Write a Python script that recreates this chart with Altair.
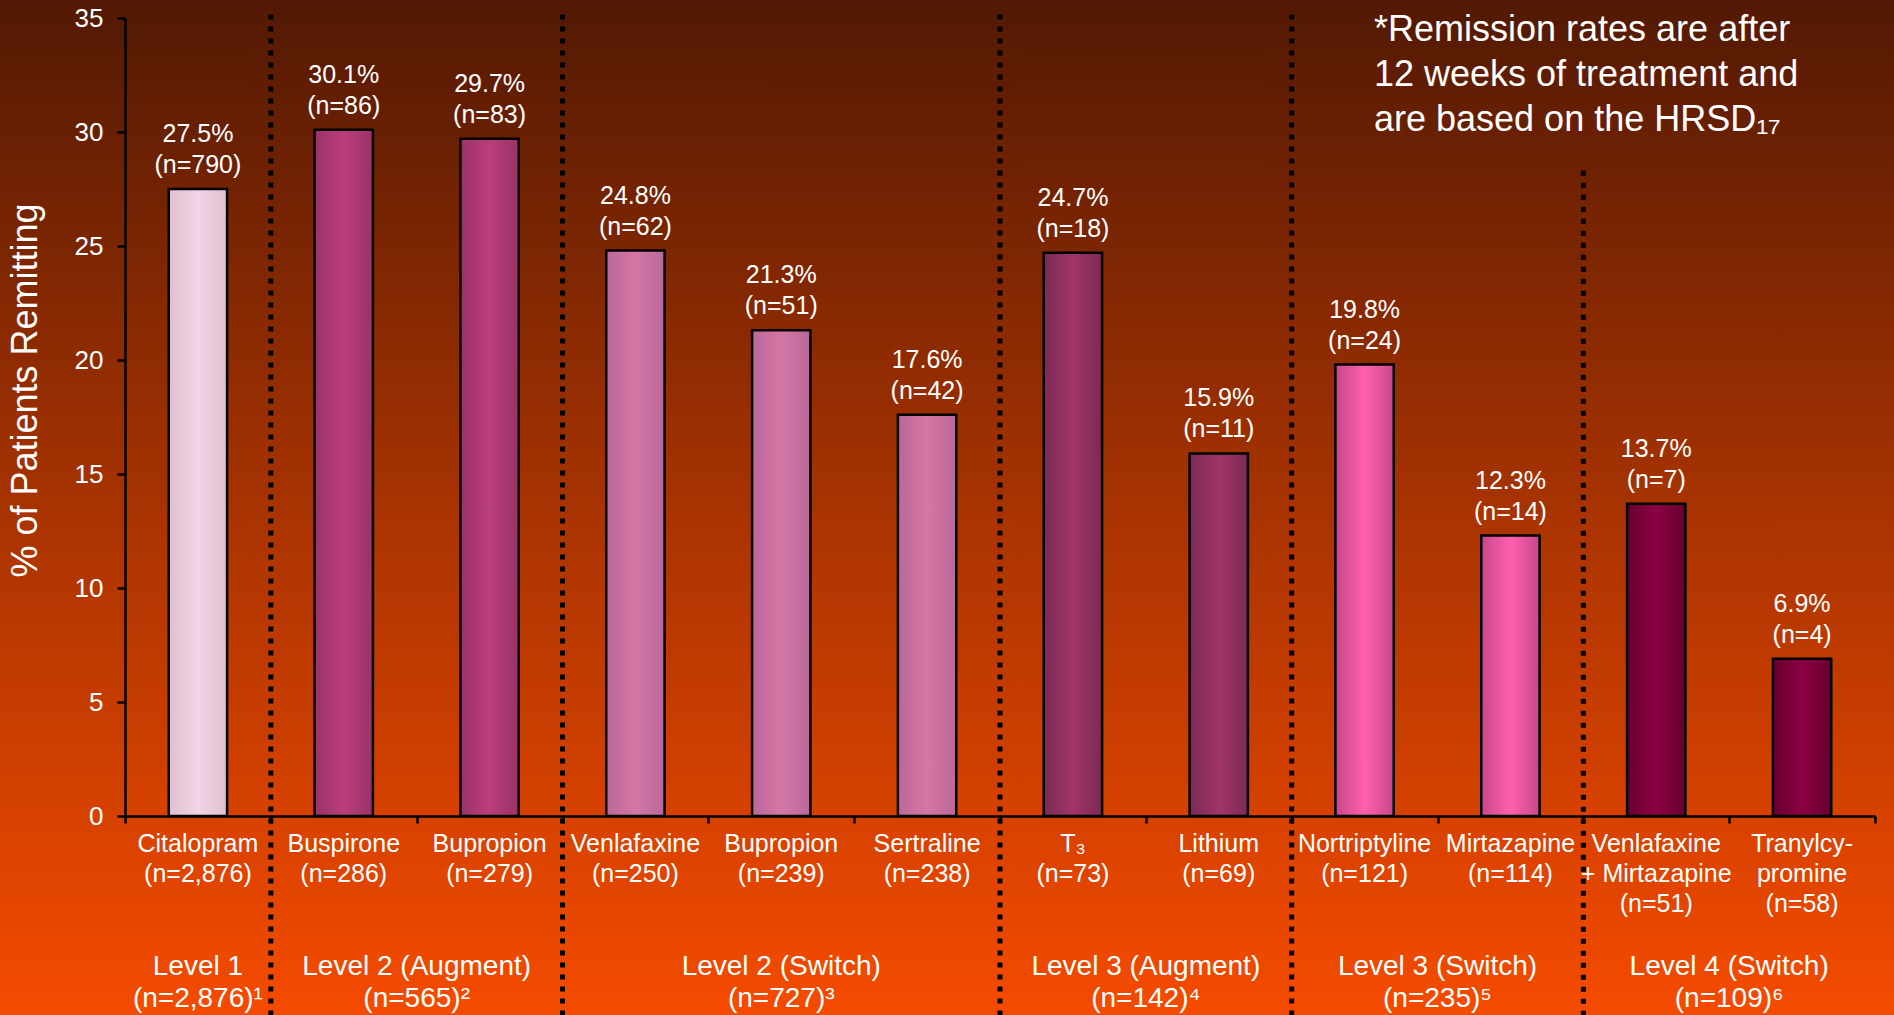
import altair as alt
import pandas as pd

# ---------------- data ----------------
drugs = ["Citalopram", "Buspirone", "Bupropion", "Venlafaxine", "Bupropion", "Sertraline",
         "T\u2083", "Lithium", "Nortriptyline", "Mirtazapine", "Venlafaxine\n+ Mirtazapine",
         "Tranylcy-\npromine"]
drug_n = [2876, 286, 279, 250, 239, 238, 73, 69, 121, 114, 51, 58]
remission_pct = [27.5, 30.1, 29.7, 24.8, 21.3, 17.6, 24.7, 15.9, 19.8, 12.3, 13.7, 6.9]
remitters = [790, 86, 83, 62, 51, 42, 18, 11, 24, 14, 7, 4]

levels = ["Level 1", "Level 2 (Augment)", "Level 2 (Switch)", "Level 3 (Augment)",
          "Level 3 (Switch)", "Level 4 (Switch)"]
level_n = [2876, 565, 727, 142, 235, 109]
level_note = ["\u00b9", "\u00b2", "\u00b3", "\u2074", "\u2075", "\u2076"]
level_size = [1, 2, 3, 2, 2, 2]

y_ticks = [0, 5, 10, 15, 20, 25, 30, 35]

annotation = "*Remission rates are after\n12 weeks of treatment and\nare based on the HRSD\u2081\u2087"

# ---------------- styles ----------------
FONT = "Liberation Sans"
level_colors = [
    ("#e0bfd1", "#f3d3e5"),
    ("#9a3366", "#ba3e7b"),
    ("#b9689a", "#d577a5"),
    ("#7c2a55", "#a03569"),
    ("#c8478a", "#ff60ae"),
    ("#66002f", "#8c0044"),
]

# ---------------- tables ----------------
rows = []
i = 0
for g, size in enumerate(level_size):
    for _ in range(size):
        rows.append({
            "idx": i,
            "group": g,
            "value": remission_pct[i],
            "vlabel": f"{remission_pct[i]}%\n(n={remitters[i]:,})",
            "dlabel": f"{drugs[i]}\n(n={drug_n[i]:,})",
        })
        i += 1
df = pd.DataFrame(rows)

lv_rows = []
start = 0
for g, size in enumerate(level_size):
    lv_rows.append({"pos": start + (size - 1) / 2,
                    "label": f"{levels[g]}\n(n={level_n[g]:,}){level_note[g]}"})
    start += size
lv_df = pd.DataFrame(lv_rows)

sep_rows = []
start = 0
for g, size in enumerate(level_size[:-1]):
    start += size
    top = 35.15 if g < len(level_size) - 2 else 28.3
    sep_rows.append({"pos": start - 0.5, "top": top, "bottom": -9.0})
sep_df = pd.DataFrame(sep_rows)

n = len(drugs)
xscale = alt.Scale(domain=[-0.5, n - 0.5], nice=False, zero=False)
yscale = alt.Scale(domain=[0, 35], nice=False, zero=False)

xaxis = alt.Axis(values=[k - 0.5 for k in range(n + 1)], labels=False, tickSize=7,
                 tickColor="black", tickWidth=2.5, domainColor="black", domainWidth=2.5,
                 grid=False, title=None, zindex=1)
yaxis = alt.Axis(values=y_ticks, labelColor="white", labelFontSize=26, labelFont=FONT,
                 tickColor="black", tickSize=8, tickWidth=2.5, domainColor="black",
                 domainWidth=2.5, labelPadding=14, grid=False,
                 title="% of Patients Remitting", titleColor="white", titleFontSize=36,
                 titleFont=FONT, titleFontWeight="normal", titleX=-100, titleY=372,
                 titleAlign="center", titleBaseline="middle", zindex=1)

# background gradient
bg = alt.Chart(pd.DataFrame({"a": [0]})).mark_rect(
    fill=alt.Gradient(gradient="linear",
                      stops=[alt.GradientStop(color="#521904", offset=0),
                             alt.GradientStop(color="#a83302", offset=0.5),
                             alt.GradientStop(color="#f54b00", offset=1)],
                      x1=0, x2=0, y1=0, y2=1)
).encode(x=alt.value(-125), x2=alt.value(1769), y=alt.value(-18), y2=alt.value(997))

layers = [bg]
for g, (edge, center) in enumerate(level_colors):
    grad = alt.Gradient(gradient="linear",
                        stops=[alt.GradientStop(color=edge, offset=0),
                               alt.GradientStop(color=center, offset=0.5),
                               alt.GradientStop(color=edge, offset=1)],
                        x1=0, x2=1, y1=0, y2=0)
    layer = alt.Chart(df).transform_filter(alt.datum.group == g).transform_calculate(
        x0="datum.idx - 0.2", x1="datum.idx + 0.2", base="0"
    ).mark_rect(fill=grad, stroke="black", strokeWidth=2.5).encode(
        x=alt.X("x0:Q", scale=xscale, axis=xaxis),
        x2="x1:Q",
        y=alt.Y("value:Q", scale=yscale, axis=yaxis),
        y2="base:Q",
    )
    layers.append(layer)

vlabels = alt.Chart(df).mark_text(
    lineBreak="\n", color="white", font=FONT, fontSize=25, baseline="alphabetic",
    align="center", dy=-47, lineHeight=31
).encode(x=alt.X("idx:Q", scale=xscale, axis=xaxis),
         y=alt.Y("value:Q", scale=yscale, axis=yaxis), text="vlabel:N")

dlabels = alt.Chart(df).mark_text(
    lineBreak="\n", color="white", font=FONT, fontSize=25, baseline="top",
    align="center", dy=16, lineHeight=30
).encode(x=alt.X("idx:Q", scale=xscale, axis=xaxis), y=alt.datum(0), text="dlabel:N")

llabels = alt.Chart(lv_df).mark_text(
    lineBreak="\n", color="white", font=FONT, fontSize=28, baseline="top",
    align="center", dy=137, lineHeight=32
).encode(x=alt.X("pos:Q", scale=xscale, axis=xaxis), y=alt.datum(0), text="label:N")

seps = alt.Chart(sep_df).mark_rule(
    color="black", strokeWidth=5, strokeDash=[5, 7]
).encode(x=alt.X("pos:Q", scale=xscale, axis=xaxis),
         y=alt.Y("top:Q", scale=yscale, axis=yaxis), y2="bottom:Q")

note = alt.Chart(pd.DataFrame({"t": [annotation]})).mark_text(
    lineBreak="\n", color="white", font=FONT, fontSize=36, align="left",
    baseline="alphabetic", lineHeight=45
).encode(x=alt.value(1249), y=alt.value(23), text="t:N")

layers += [vlabels, dlabels, llabels, seps, note]

chart = alt.layer(*layers).properties(
    width=1750, height=798,
    autosize=alt.AutoSizeParams(type="none"),
    padding={"left": 125, "top": 18, "right": 19, "bottom": 199},
    background="#a33202",
).configure_view(stroke=None)

chart.save("out.html", embed_options={"renderer": "svg", "actions": False})
